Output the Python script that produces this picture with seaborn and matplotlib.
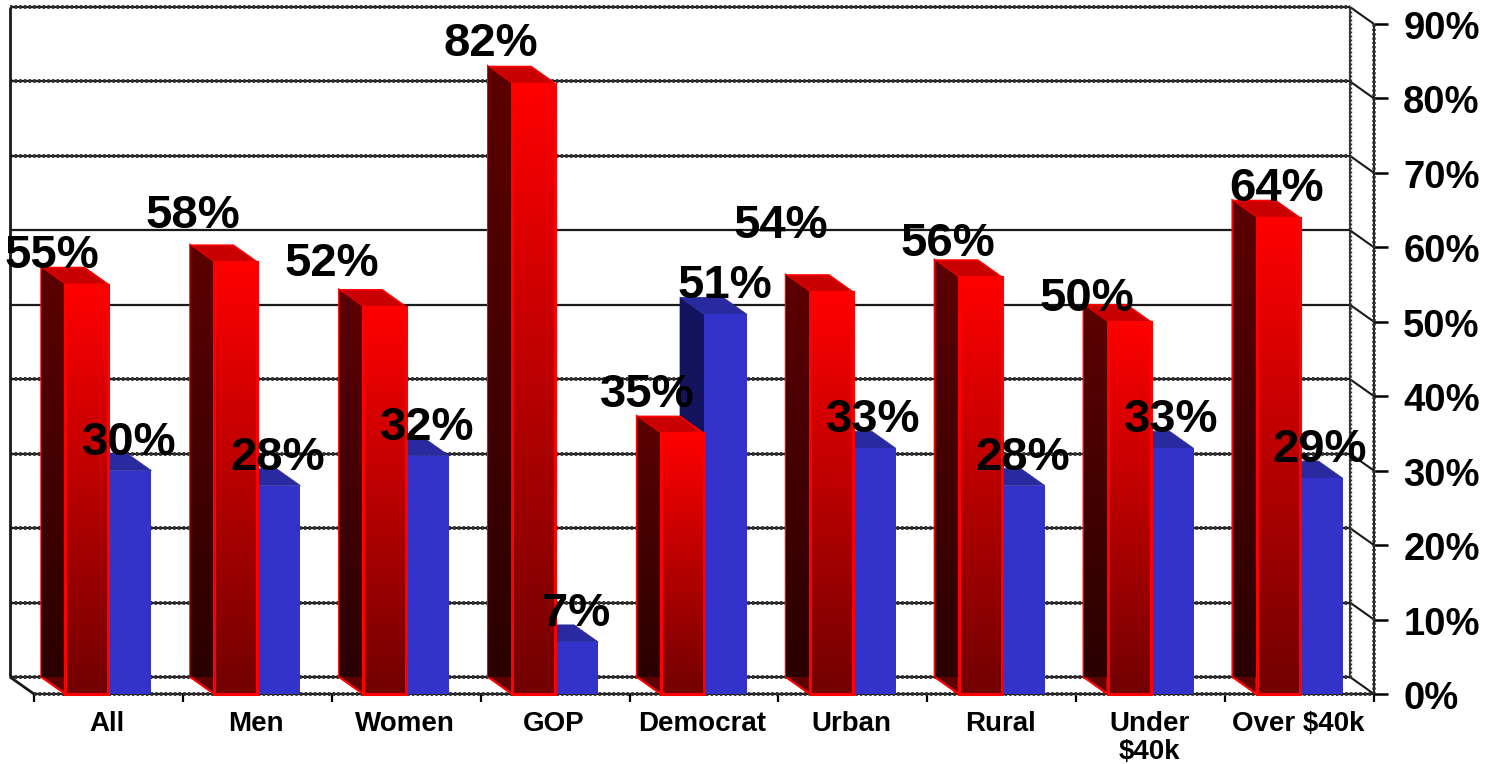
import numpy as np
import pandas as pd
import seaborn as sns
import matplotlib.pyplot as plt
from matplotlib.colors import LinearSegmentedColormap
from matplotlib.patches import Polygon
from matplotlib.transforms import ScaledTranslation

categories = ["All", "Men", "Women", "GOP", "Democrat", "Urban", "Rural", "Under\n$40k", "Over $40k"]
red_values = [55, 58, 52, 82, 35, 54, 56, 50, 64]
blue_values = [30, 28, 32, 7, 51, 33, 28, 33, 29]

# label offsets from the top of each front face, in pixels
red_offsets = [(-35, 29), (-43, 46), (-53, 43), (-43, 40), (-35, 38), (-51, 66), (-32, 33), (-42, 23), (-1, 29)]
blue_offset = (-1, 28)

sns.set_theme(style="white")
plt.rcParams["font.family"] = ["Liberation Sans", "DejaVu Sans"]
plt.rcParams["font.weight"] = "bold"

df = pd.DataFrame({
    "category": categories * 2,
    "value": red_values + blue_values,
    "series": ["red"] * 9 + ["blue"] * 9,
})

fig = plt.figure(figsize=(14.96, 7.64), dpi=100)
ax = fig.add_axes([34 / 1496, (764 - 694) / 764, 1340 / 1496, 670 / 764])

sns.barplot(data=df, x="category", y="value", hue="series", order=categories,
            hue_order=["red", "blue"], palette={"red": "#ff0000", "blue": "#3333cc"},
            width=0.578, gap=0, dodge=True, legend=False, ax=ax, saturation=1, zorder=5)
ax.set_xlim(-0.5, 8.5)
ax.set_ylim(0, 90)
ax.set_xlabel("")
ax.set_ylabel("")
for s in ax.spines.values():
    s.set_visible(False)

# depth of the fake 3d box in data units
dx = 24 / 148.9
dy = 17 / 7.44

front_red = LinearSegmentedColormap.from_list("fr", ["#720000", "#ff0000"])
side_red = LinearSegmentedColormap.from_list("sr", ["#2a0000", "#5c0000"])
grad = np.linspace(1, 0, 128).reshape(-1, 1)


def wall_line(x, y, lw=1.6, teeth=False):
    ax.plot(x, y, color="#1a1a1a", lw=lw, clip_on=False, zorder=1, solid_capstyle="butt")
    if teeth:
        ax.plot(x, y, color="#333333", lw=lw + 1.2, ls=(0, (0.6, 0.6)), clip_on=False, zorder=1)


# back wall and side connectors
dotted = {0, 10, 20, 30, 40, 70, 80, 90}
for v in range(0, 100, 10):
    wall_line([-0.5 - dx, 8.5 - dx], [v + dy, v + dy], teeth=v in dotted)
    wall_line([8.5 - dx, 8.5], [v + dy, v], lw=1.5)
wall_line([-0.5 - dx, -0.5 - dx], [dy, 90 + dy], lw=2)
wall_line([8.5 - dx, 8.5 - dx], [dy, 90 + dy], teeth=True, lw=1.2)
wall_line([8.5, 8.5], [0, 90], teeth=True, lw=1.4)
wall_line([-0.5 - dx, -0.5], [dy, 0], lw=2)
wall_line([-0.5, 8.5], [0, 0], teeth=True, lw=1.6)

n = len(categories)
for k, bar in enumerate(ax.patches[:2 * n]):
    x0, w, h = bar.get_x(), bar.get_width(), bar.get_height()
    is_red = k < n
    z = 6 if is_red else 3
    side = Polygon([(x0, 0), (x0, h), (x0 - dx, h + dy), (x0 - dx, dy)], closed=True, clip_on=False,
                   facecolor="#5c0000" if is_red else "#14145e",
                   edgecolor="#ff0000" if is_red else "#14145e", lw=1.6 if is_red else 0.5, zorder=z)
    top = Polygon([(x0, h), (x0 + w, h), (x0 + w - dx, h + dy), (x0 - dx, h + dy)], closed=True, clip_on=False,
                  facecolor="#c80000" if is_red else "#2a2aa0",
                  edgecolor="#ff0000" if is_red else "#2a2aa0", lw=1.2 if is_red else 0.5, zorder=z)
    ax.add_patch(side)
    ax.add_patch(top)
    if is_red:
        im = ax.imshow(grad, extent=[x0 - dx, x0, dy, h + dy], cmap=side_red, aspect="auto", zorder=z + 0.1)
        im.set_clip_path(side)
        bar.set_zorder(z + 0.2)
        bar.set_edgecolor("#ff0000")
        bar.set_linewidth(2.2)
        im2 = ax.imshow(grad, extent=[x0, x0 + w, 0, h], cmap=front_red, aspect="auto", zorder=z + 0.3)
        im2.set_clip_path(bar)
        # outline over the gradient
        ax.add_patch(Polygon([(x0, 0), (x0, h), (x0 + w, h), (x0 + w, 0)], closed=True, fill=False,
                             edgecolor="#ff0000", lw=2.2, zorder=z + 0.4, clip_on=False))
    else:
        bar.set_zorder(z + 0.2)
        bar.set_edgecolor("none")
        bar.set_linewidth(0)
    # data label
    off = red_offsets[k] if is_red else blue_offset
    val = red_values[k] if is_red else blue_values[k - n]
    ax.annotate(f"{val}%", (x0 + w / 2, h), xytext=(off[0] * 0.72, off[1] * 0.72), textcoords="offset points",
                ha="center", va="center", fontsize=34, fontweight="bold", color="black",
                zorder=10, annotation_clip=False)

ax.set_xlim(-0.5, 8.5)
ax.set_ylim(0, 90)

# axes
ax.set_xticks(range(n))
ax.set_xticklabels(categories, fontsize=20, fontweight="bold", color="black", linespacing=1.12)
ax.set_xticks(np.arange(-0.5, 9), minor=True)
ax.tick_params(axis="x", which="major", length=0, pad=12, bottom=False)
ax.tick_params(axis="x", which="minor", length=5.5, width=1.6, color="black", bottom=True)

ax.yaxis.tick_right()
ax.set_yticks(range(0, 100, 10))
ax.set_yticklabels([f"{v}%" for v in range(0, 100, 10)], fontsize=27.5, fontweight="bold", color="black")
ax.tick_params(axis="y", length=10, width=1.8, color="black", pad=11, right=True)
down = ScaledTranslation(0, -1 / 100, fig.dpi_scale_trans)
for lab in ax.get_yticklabels():
    lab.set_transform(lab.get_transform() + down)
left = ScaledTranslation(-1.5 / 100, 0, fig.dpi_scale_trans)
for lab in ax.get_xticklabels():
    lab.set_transform(lab.get_transform() + left)

fig.savefig("out.png", dpi=100)
